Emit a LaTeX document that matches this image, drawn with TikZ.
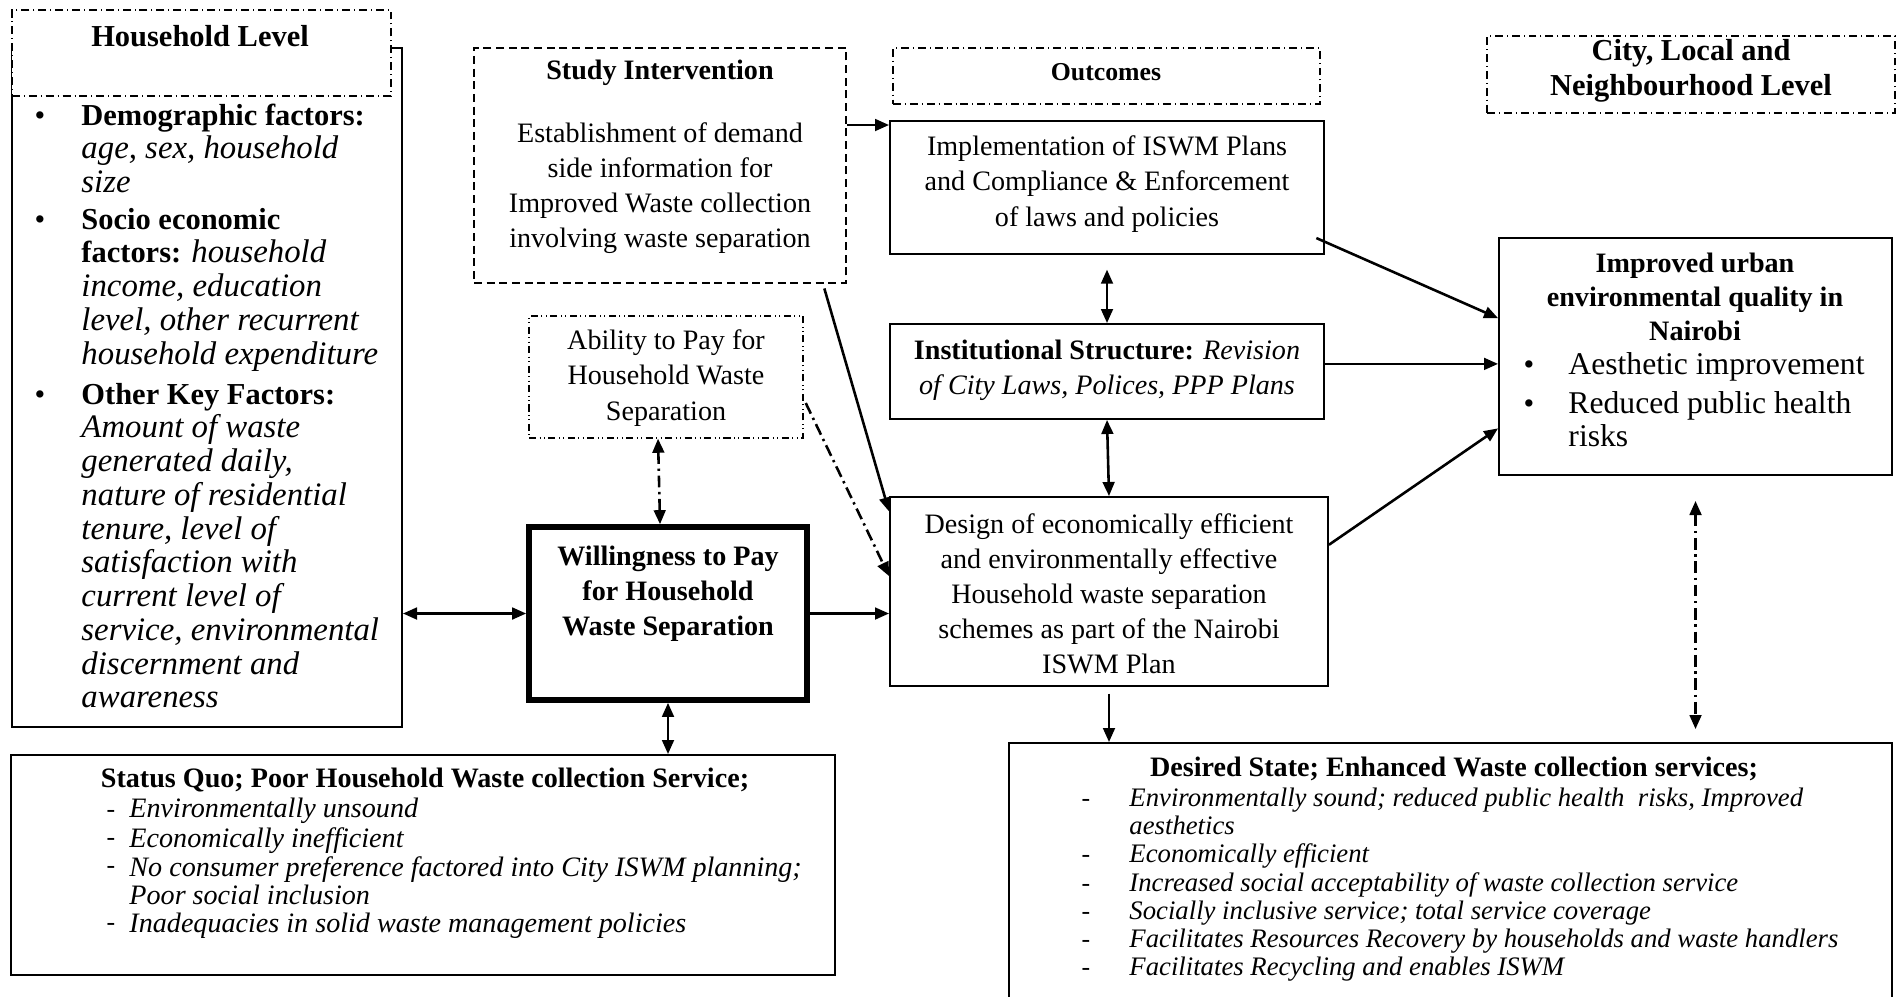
\documentclass[tikz,border=0pt]{standalone}
\usepackage{fontspec}
\setmainfont{Liberation Serif}
\usetikzlibrary{arrows.meta, fit}

\newcommand{\hhit}[1]{{\fontsize{14}{14.4}\selectfont\itshape #1}}

\tikzset{
  box/.style={draw, line width=0.8pt, inner sep=0pt},
  headbox/.style={draw, line width=0.6pt, inner sep=0pt, fill=white,
    dash pattern=on 3.4pt off 1.7pt on 0.4pt off 1.7pt},
  studybox/.style={box, dash pattern=on 3.4pt off 2pt},
  ablebox/.style={draw, line width=0.6pt, inner sep=0pt,
    dash pattern=on 3pt off 1.5pt on 0.4pt off 1.5pt on 0.4pt off 1.5pt},
  wtpbox/.style={draw, line width=2.4pt, inner sep=0pt},
  txt/.style={inner sep=0pt, align=center, font=\fontsize{12}{15}\selectfont},
  bigtxt/.style={inner sep=0pt, align=left, font=\fontsize{13}{14.4}\selectfont},
  smalltxt/.style={inner sep=0pt, align=left, font=\fontsize{11}{12.06}\selectfont\itshape},
  link/.style={line width=1.1pt, -{Triangle[length=6pt,width=5pt]}},
  dlink/.style={line width=1.1pt, {Triangle[length=6pt,width=5pt]}-{Triangle[length=6pt,width=5pt]}},
  dashdot/.style={dash pattern=on 5pt off 2pt on 1pt off 2pt}
}

\begin{document}
\begin{tikzpicture}[x=0.015cm, y=-0.015cm]
  \useasboundingbox (0,0) rectangle (1897,996);

  % Household level
  \node[box, fit={(12,48) (402,727)}] (hhbox) {};
  \node[headbox, fit={(12,10) (391,96)}] (hhhead) {};
  \node[txt, font=\fontsize{13}{15}\selectfont\bfseries] (hhtitle) at (200,36) {Household Level};
  \node[bigtxt, anchor=north] (dot1) at (40,101) {\strut\textbullet};
  \node[bigtxt, anchor=north west] (demo) at (81,101)
    {\strut\textbf{Demographic factors:}\\\hhit{age, sex, household}\\\hhit{size}};
  \node[bigtxt, anchor=north] (dot2) at (40,205) {\strut\textbullet};
  \node[bigtxt, anchor=north west] (socio) at (81,205)
    {\strut\textbf{Socio economic}\\\textbf{factors:} \hhit{household}\\\hhit{income, education}\\
     \hhit{level, other recurrent}\\\hhit{household expenditure}};
  \node[bigtxt, anchor=north] (dot3) at (40,380) {\strut\textbullet};
  \node[bigtxt, anchor=north west] (other) at (81,380)
    {\strut\textbf{Other Key Factors:}\\\hhit{Amount of waste}\\\hhit{generated daily,}\\
     \hhit{nature of residential}\\\hhit{tenure, level of}\\\hhit{satisfaction with}\\
     \hhit{current level of}\\\hhit{service, environmental}\\\hhit{discernment and}\\
     \hhit{awareness}};

  % Study intervention
  \node[studybox, fit={(474,48) (846,283)}] (study) {};
  \node[txt, font=\fontsize{12}{15}\selectfont\bfseries] (studytitle) at (660,73) {Study Intervention};
  \node[txt] (studytext) at (660,188)
    {Establishment of demand\\side information for\\Improved Waste collection\\involving waste separation};

  % Ability and willingness to pay
  \node[ablebox, fit={(529,316) (803,438)}] (ability) {};
  \node[txt] (abletext) at (666,378) {Ability to Pay for\\Household Waste\\Separation};
  \node[wtpbox, fit={(529,527) (807,700)}] (wtp) {};
  \node[txt, font=\fontsize{12}{15}\selectfont\bfseries] (wtptext) at (668,594)
    {Willingness to Pay\\for Household\\Waste Separation};

  % Outcomes
  \node[headbox, fit={(893,48) (1320,104)}] (outcomes) {};
  \node[txt, font=\fontsize{11}{14}\selectfont\bfseries] (outtext) at (1106,72) {Outcomes};
  \node[box, fit={(890,121) (1324,254)}] (impl) {};
  \node[txt] (impltext) at (1107,184)
    {Implementation of ISWM Plans\\and Compliance \& Enforcement\\of laws and policies};
  \node[box, fit={(890,324) (1324,419)}] (inst) {};
  \node[txt] (insttext) at (1107,370)
    {\textbf{Institutional Structure:} \textit{Revision}\\\textit{of City Laws, Polices, PPP Plans}};
  \node[box, fit={(890,497) (1328,686)}] (design) {};
  \node[txt] (designtext) at (1109,594)
    {Design of economically efficient\\and environmentally effective\\Household waste separation\\
     schemes as part of the Nairobi\\ISWM Plan};

  % City level
  \node[headbox, fit={(1487,36) (1895,113)}] (city) {};
  \node[txt, font=\fontsize{13}{15}\selectfont\bfseries] (citytext) at (1691,71)
    {City, Local and\\Neighbourhood Level};
  \node[box, fit={(1499,238) (1892,475)}] (improved) {};
  \node[txt, font=\fontsize{12}{14.4}\selectfont\bfseries] (imptitle) at (1695,297)
    {Improved urban\\environmental quality in\\Nairobi};
  \node[bigtxt, anchor=north] (dot4) at (1529,350) {\strut\textbullet};
  \node[bigtxt, font=\fontsize{13.5}{14.4}\selectfont, anchor=north west] (aesth) at (1568,350)
    {\strut Aesthetic improvement};
  \node[bigtxt, anchor=north] (dot5) at (1529,389) {\strut\textbullet};
  \node[bigtxt, font=\fontsize{13.5}{14.4}\selectfont, anchor=north west] (health) at (1568,389)
    {\strut Reduced public health\\risks};

  % Status quo
  \node[box, fit={(11,755) (835,975)}] (status) {};
  \node[txt, font=\fontsize{12}{15}\selectfont\bfseries] (sqtitle) at (425,780)
    {Status Quo; Poor Household Waste collection Service;};
  \node[smalltxt, anchor=north] (sqdash) at (111,797) {\strut-\\-\\-\\\strut\\-};
  \node[smalltxt, font=\fontsize{12}{12.06}\selectfont\itshape, anchor=north west] (sqlist) at (129,797)
    {\strut Environmentally unsound\\Economically inefficient\\
     No consumer preference factored into City ISWM planning;\\Poor social inclusion\\
     Inadequacies in solid waste management policies};

  % Desired state
  \node[box, fit={(1009,743) (1892,1010)}] (desired) {};
  \node[txt, font=\fontsize{12}{15}\selectfont\bfseries] (dstitle) at (1454,769)
    {Desired State; Enhanced Waste collection services;};
  \node[smalltxt, anchor=north] (dsdash) at (1086,786) {\strut-\\\strut\\-\\-\\-\\-\\-};
  \node[smalltxt, font=\fontsize{11.4}{12.06}\selectfont\itshape, anchor=north west] (dslist) at (1129,786)
    {\strut Environmentally sound; reduced public health\ \ risks, Improved\\aesthetics\\
     Economically efficient\\Increased social acceptability of waste collection service\\
     Socially inclusive service; total service coverage\\
     Facilitates Resources Recovery by households and waste handlers\\
     Facilitates Recycling and enables ISWM};

  % Connectors
  \draw[link] (impl.164 -| study.east) -- (impl.164);
  \draw[link, shorten <=2pt] (study.-36) -- (design.160);
  \draw[link, dashdot, shorten <=2pt] (ability.-9) -- (design.176);
  \draw[dlink, dashdot] ([xshift=-3.4pt]ability.south) -- ([xshift=-3.4pt]wtp.north);
  \draw[dlink] (wtp.west -| hhbox.east) -- (wtp.west);
  \draw[link] (wtp.east) -- (wtp.east -| design.west);
  \draw[dlink] (wtp.south) -- (wtp.south |- status.north);
  \draw[dlink, shorten <=0.22cm] (impl.south) -- (inst.north);
  \draw[dlink] (inst.south) -- (design.north);
  \draw[link, shorten <=0.1cm] (design.south) -- (design.south |- desired.north);
  \draw[link, shorten <=-4pt] (impl.-14) -- (improved.169);
  \draw[link] (inst.2) -- (inst.2 -| improved.west);
  \draw[link] (design.12) -- (improved.200);
  \draw[dlink, dashdot, shorten <=0.375cm, shorten >=0.195cm] (improved.south) -- (improved.south |- desired.north);
\end{tikzpicture}
\end{document}
